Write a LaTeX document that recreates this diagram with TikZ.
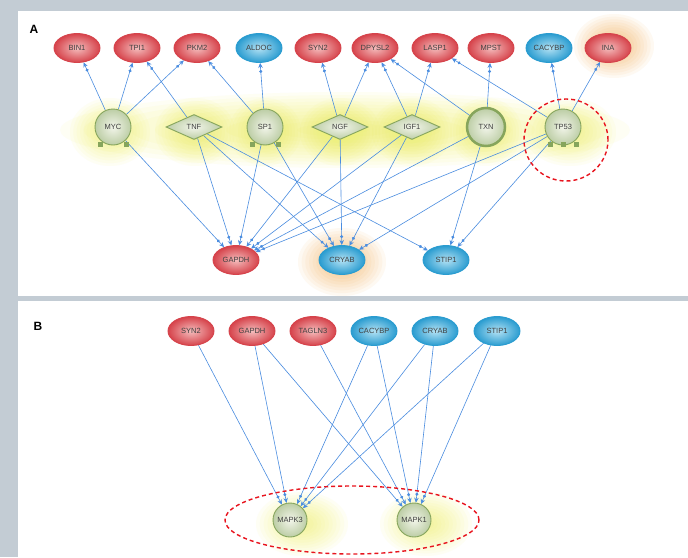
\documentclass[tikz,border=0pt]{standalone}
\usepackage{fontspec}
\setmainfont{Liberation Sans}
\usetikzlibrary{shapes.geometric,arrows.meta,positioning,backgrounds}
\definecolor{panelGray}{HTML}{C3CCD4}
\definecolor{geneRed}{HTML}{D6434B}
\definecolor{geneRedLight}{HTML}{F4BDBD}
\definecolor{geneBlue}{HTML}{2A9CD0}
\definecolor{geneBlueLight}{HTML}{B4E2F4}
\definecolor{hubGreen}{HTML}{86A55C}
\definecolor{hubLight}{HTML}{F2F5EA}
\definecolor{edgeBlue}{HTML}{4A8DE0}
\definecolor{glowYellow}{HTML}{EEF04A}
\definecolor{glowOrange}{HTML}{F49A2C}
\definecolor{markRed}{HTML}{E8141E}

% soft halo: x, y, x radius, y radius, colour
\newcommand{\halo}[5]{%
	\foreach \k in {1,...,12}{
		\fill[#5,opacity=0.06](#1,#2)ellipse[x radius={#3pt*\k/12},y radius={#4pt*\k/12}];
	}}

\tikzset{
	gene/.style={ellipse,minimum width=46pt,minimum height=29pt,inner sep=0pt,
		font=\fontsize{7.5}{8}\selectfont,text=black!75,line width=0.9pt},
	redgene/.style={gene,draw=geneRed,inner color=geneRedLight,outer color=geneRed},
	bluegene/.style={gene,draw=geneBlue,inner color=geneBlueLight,outer color=geneBlue},
	hub/.style={inner sep=0pt,font=\fontsize{7.5}{8}\selectfont,text=black!75,
		draw=hubGreen,line width=0.9pt,inner color=hubLight,outer color=hubGreen!55},
	hubball/.style={hub,circle,minimum size=36pt},
	hubdiamond/.style={hub,diamond,aspect=2.3,minimum width=56pt,minimum height=25pt},
	link/.style={draw=edgeBlue,line width=0.6pt,
		-{Circle[length=3pt,sep=2pt]Stealth[length=5pt,width=4.5pt]}}
}

\begin{document}
\begin{tikzpicture}[x=1pt,y=-1pt]
	\useasboundingbox(0,0)rectangle(688,557);
	% panel A
	\node[font=\large\bfseries]at(34,29){A};
	\foreach \n/\x/\s in{BIN1/77/redgene,TPI1/137/redgene,PKM2/197/redgene,
		ALDOC/259/bluegene,SYN2/318/redgene,DPYSL2/375/redgene,LASP1/435/redgene,
		MPST/491/redgene,CACYBP/549/bluegene,INA/608/redgene}
	{\node[\s](\n)at(\x,48){\n};}
	\foreach \n/\x/\s in{MYC/113/hubball,TNF/194/hubdiamond,SP1/265/hubball,
		NGF/340/hubdiamond,IGF1/412/hubdiamond,TXN/486/hubball,TP53/563/hubball}
	{\node[\s](\n)at(\x,127){\n};}
	\node[hubball,line width=2.5pt,minimum size=38pt]at(TXN){TXN};
	\foreach \n/\x/\s in{GAPDH/236/redgene,CRYAB/342/bluegene,STIP1/446/bluegene}
	{\node[\s](\n)at(\x,260){\n};}
	\foreach \n/\l in{MYC/2,SP1/2,TP53/3}{
		\foreach \d in{-13,0,13}{
			\ifnum\l=2 \ifnum\d=0 \else
			\fill[hubGreen]([xshift=\d pt]\n.south)++(-2.5,-3)rectangle++(5,5);\fi
			\else
			\fill[hubGreen]([xshift=\d pt]\n.south)++(-2.5,-3)rectangle++(5,5);\fi
		}}
	% panel B
	\node[font=\large\bfseries]at(38,326){B};
	\foreach \n/\x/\s in{SYN2/191/redgene,GAPDH/252/redgene,TAGLN3/313/redgene,
		CACYBP/374/bluegene,CRYAB/435/bluegene,STIP1/497/bluegene}
	{\node[\s](B\n)at(\x,331){\n};}
	\node[hubball,minimum size=34pt](MAPK3)at(290,520){MAPK3};
	\node[hubball,minimum size=34pt](MAPK1)at(414,520){MAPK1};
	% red marks
	\draw[markRed,dashed,line width=1.4pt,dash pattern=on 4pt off 3pt]
		(TP53)++(3,13)ellipse[x radius=42pt,y radius=41pt];
	\draw[markRed,dashed,line width=1.4pt,dash pattern=on 4pt off 3pt]
		(352,520)ellipse[x radius=127pt,y radius=34pt];
	\begin{scope}[on background layer]
		\fill[panelGray](0,0)rectangle(688,557);
		\fill[white](18,11)rectangle(688,296);
		\fill[white](18,301)rectangle(688,557);
		\halo{345}{130}{285}{38}{glowYellow}
		\foreach \x/\rx in{110/40,195/40,265/36,340/40,412/40,486/36,570/46}
		{\halo{\x}{132}{\rx}{34}{glowYellow}}
		\halo{614}{46}{40}{32}{glowOrange}
		\halo{342}{262}{44}{34}{glowOrange}
		\halo{302}{524}{46}{32}{glowYellow}
		\halo{426}{524}{46}{32}{glowYellow}
		\foreach \s/\t in{MYC/BIN1,MYC/TPI1,MYC/PKM2,TNF/TPI1,SP1/PKM2,SP1/ALDOC,
			NGF/SYN2,NGF/DPYSL2,IGF1/DPYSL2,IGF1/LASP1,TXN/DPYSL2,TXN/MPST,
			TP53/LASP1,TP53/CACYBP,TP53/INA,
			MYC/GAPDH,TNF/GAPDH,TNF/CRYAB,TNF/STIP1,SP1/GAPDH,SP1/CRYAB,
			NGF/GAPDH,NGF/CRYAB,IGF1/GAPDH,IGF1/CRYAB,TXN/GAPDH,TXN/STIP1,
			TP53/GAPDH,TP53/CRYAB,TP53/STIP1}
		{\draw[link](\s)--(\t);}
		\foreach \s/\t in{BSYN2/MAPK3,BGAPDH/MAPK3,BGAPDH/MAPK1,BTAGLN3/MAPK1,
			BCACYBP/MAPK3,BCACYBP/MAPK1,BCRYAB/MAPK3,BCRYAB/MAPK1,
			BSTIP1/MAPK3,BSTIP1/MAPK1}
		{\draw[link](\s)--(\t);}
	\end{scope}
\end{tikzpicture}
\end{document}
